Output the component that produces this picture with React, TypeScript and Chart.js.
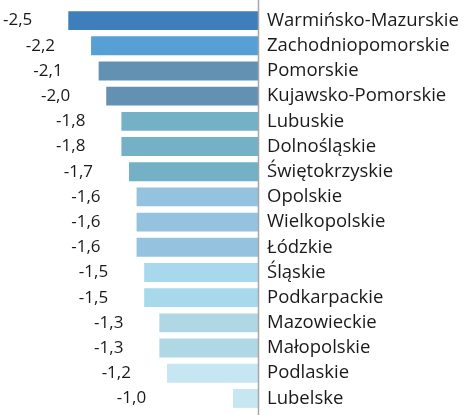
import React, { useEffect, useRef } from "react";
import { Chart, registerables } from "chart.js";

Chart.register(...registerables);

const categories = [
  "Warmińsko-Mazurskie",
  "Zachodniopomorskie",
  "Pomorskie",
  "Kujawsko-Pomorskie",
  "Lubuskie",
  "Dolnośląskie",
  "Świętokrzyskie",
  "Opolskie",
  "Wielkopolskie",
  "Łódzkie",
  "Śląskie",
  "Podkarpackie",
  "Mazowieckie",
  "Małopolskie",
  "Podlaskie",
  "Lubelske",
];

// bar lengths as drawn in the picture
const barValues = [-2.5, -2.2, -2.1, -2.0, -1.8, -1.8, -1.7, -1.6, -1.6, -1.6, -1.5, -1.5, -1.3, -1.3, -1.2, -0.33];

// value labels as printed
const valueLabels = ["-2,5", "-2,2", "-2,1", "-2,0", "-1,8", "-1,8", "-1,7", "-1,6", "-1,6", "-1,6", "-1,5", "-1,5", "-1,3", "-1,3", "-1,2", "-1,0"];

const barColors = [
  "#3d7ebb",
  "#57a0d5",
  "#6391b2",
  "#6391b2",
  "#74b0c6",
  "#74b0c6",
  "#74b0c6",
  "#94c2df",
  "#94c2df",
  "#94c2df",
  "#a7d8ec",
  "#a7d8ec",
  "#b0d7e4",
  "#b0d7e4",
  "#c6e6f2",
  "#c6e6f2",
];

const FONT = '"Open Sans", sans-serif';

const labelsPlugin = {
  id: "valueLabels",
  afterDraw(chart: any) {
    const ctx = chart.ctx;
    const xs = chart.scales.x;
    const ys = chart.scales.y;
    ctx.save();
    // axis line
    const x0 = Math.round(xs.getPixelForValue(0)) + 0.5;
    ctx.strokeStyle = "#a6a6a6";
    ctx.lineWidth = 1.5;
    ctx.beginPath();
    ctx.moveTo(x0, 0);
    ctx.lineTo(x0, chart.height);
    ctx.stroke();
    // value labels
    ctx.fillStyle = "#1a1a1a";
    ctx.font = `17px ${FONT}`;
    ctx.textAlign = "right";
    ctx.textBaseline = "middle";
    valueLabels.forEach((lab, i) => {
      const v = parseFloat(lab.replace(",", "."));
      const x = xs.getPixelForValue(v) - 36;
      const y = ys.getPixelForValue(i);
      ctx.fillText(lab, x, y);
    });
    ctx.restore();
  },
};

export default function App() {
  const ref = useRef<HTMLCanvasElement>(null);
  useEffect(() => {
    document.body.style.margin = "0";
    const chart = new Chart(ref.current!, {
      type: "bar",
      data: {
        labels: categories,
        datasets: [
          {
            data: barValues,
            backgroundColor: barColors,
            borderWidth: 0,
            barPercentage: 0.75,
            categoryPercentage: 1,
          },
        ],
      },
      options: {
        indexAxis: "y",
        animation: false,
        responsive: false,
        maintainAspectRatio: false,
        layout: { padding: { top: 8, bottom: 4, left: 0, right: 0 } },
        plugins: { legend: { display: false }, tooltip: { enabled: false } },
        scales: {
          x: {
            display: false,
            min: -3.4,
            max: 0,
          },
          y: {
            position: "right",
            grid: { display: false, drawTicks: false },
            border: { display: false },
            ticks: {
              autoSkip: false,
              padding: 9,
              color: "#1a1a1a",
              font: { family: FONT, size: 18.5 },
            },
            afterFit(scale: any) {
              scale.width = 216;
              scale.paddingTop = 0;
              scale.paddingBottom = 0;
            },
          },
        },
      },
      plugins: [labelsPlugin],
    });
    return () => chart.destroy();
  }, []);
  return <canvas ref={ref} width={474} height={415} style={{ display: "block" }} />;
}
